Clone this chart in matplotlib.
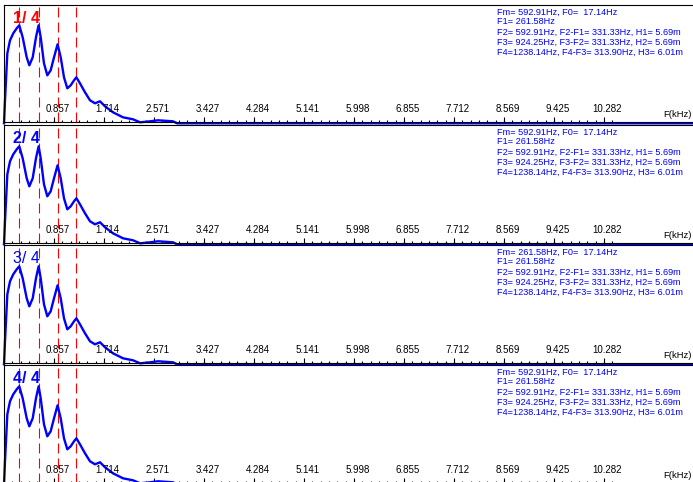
import matplotlib
matplotlib.use("Agg")
import matplotlib.pyplot as plt

plt.rcParams['font.family'] = ['Liberation Sans', 'DejaVu Sans']
plt.rcParams['lines.scale_dashes'] = False

# ---------------- data ----------------
freq_khz = [0.000, 0.017, 0.057, 0.103, 0.159, 0.218, 0.262, 0.320, 0.389, 0.434,
            0.492, 0.548, 0.593, 0.629, 0.685, 0.742, 0.800, 0.857, 0.918, 0.972,
            1.028, 1.085, 1.143, 1.200, 1.240, 1.302, 1.388, 1.474, 1.559, 1.645,
            1.731, 1.868, 2.039, 2.211, 2.331, 2.502, 2.639, 2.896, 2.965, 4.000,
            12.000]
amplitude = [0, 23, 70, 83, 90, 95, 98, 86, 66, 58,
             66, 86, 98, 86, 60, 48, 53, 66, 79, 66,
             46, 35, 38, 43, 46, 40, 31, 23, 20, 22,
             17, 11, 6, 4, 1, 2, 3, 2, 0, 0,
             0]

formant_hz = [261.58, 592.91, 924.25, 1238.14]

tick_labels = ["0.857", "1.714", "2.571", "3.427", "4.284", "5.141",
               "5.998", "6.855", "7.712", "8.569", "9.425", "10.282"]
tick_values = [float(t) for t in tick_labels]
minor_step = 0.85683 / 6
minor_values = [minor_step * k for k in range(1, 74)]

panel_labels = ["1/ 4", "2/ 4", "3/ 4", "4/ 4"]
panel_label_colors = ["#ff0000", "#0000ff", "#0000ff", "#0000ff"]
panel_label_weights = ["bold", "bold", "normal", "bold"]
fm_values = ["592.91", "592.91", "261.58", "592.91"]

info_lines_tail = [
    "F1= 261.58Hz",
    "F2= 592.91Hz, F2-F1= 331.33Hz, H1= 5.69m",
    "F3= 924.25Hz, F3-F2= 331.33Hz, H2= 5.69m",
    "F4=1238.14Hz, F4-F3= 313.90Hz, H3= 6.01m",
]

# ---------------- layout (pixels) ----------------
W, H = 693, 482
tops = [5, 125, 245, 365]
bottoms = [122, 243, 363, 483]
left_px = 4
xmax_khz = (W - left_px) / 50 * 0.85683
PT = 0.72  # points per pixel at dpi 100

fig = plt.figure(figsize=(W / 100, H / 100), dpi=100)
fig.patch.set_facecolor("white")

for i in range(4):
    T, B = tops[i], bottoms[i]
    hpx = B - T
    ax = fig.add_axes([left_px / W, (H - B) / H, (W - left_px) / W, hpx / H])
    ax.set_xlim(0, xmax_khz)
    off = 1.3
    ax.set_ylim(off, off + hpx)
    ax.set_facecolor("white")
    for s in ["left", "top", "bottom"]:
        ax.spines[s].set_color("black")
        ax.spines[s].set_linewidth(0.8)
    ax.spines["right"].set_visible(False)
    ax.spines["left"].set_zorder(5)
    ax.spines["bottom"].set_zorder(5)

    ax.set_yticks([])
    ax.set_xticks(tick_values)
    ax.set_xticks([m for m in minor_values if m <= 10.43], minor=True)
    ax.tick_params(axis="x", which="major", direction="in", length=5 * PT,
                   width=0.8, color="black", labelbottom=False)
    ax.tick_params(axis="x", which="minor", direction="in", length=2.5 * PT,
                   width=0.8, color="black")

    for f in formant_hz:
        ax.axvline(f / 1000.0, color="#ff0000", lw=0.8, dashes=(7.2, 3.6), zorder=2)

    ax.plot(freq_khz, amplitude, color="#0000ff", lw=1.7, zorder=3, clip_on=False)

    for tv, tl in zip(tick_values, tick_labels):
        ax.annotate(tl, xy=(tv, 0), xycoords=("data", "axes fraction"),
                    xytext=(3.5 * PT, 10 * PT), textcoords="offset points",
                    ha="center", va="baseline", fontsize=7, color="black", zorder=6)

    fig.text(663 / W, 1 - (B - 5) / H, "F(kHz)", ha="left", va="baseline",
             fontsize=6.8, color="black")

    fig.text(13 / W, 1 - (T + 18) / H, panel_labels[i], ha="left", va="baseline",
             fontsize=11.5, color=panel_label_colors[i],
             fontweight=panel_label_weights[i], zorder=7)

    lines = ["Fm= %sHz, F0=  17.14Hz" % fm_values[i]] + info_lines_tail
    for k, line in enumerate(lines):
        fig.text(497 / W, 1 - (T + 9.5 + 10 * k) / H, line, ha="left",
                 va="baseline", fontsize=6.6, color="#0000ff")

fig.savefig("out.png", dpi=100, facecolor="white")
